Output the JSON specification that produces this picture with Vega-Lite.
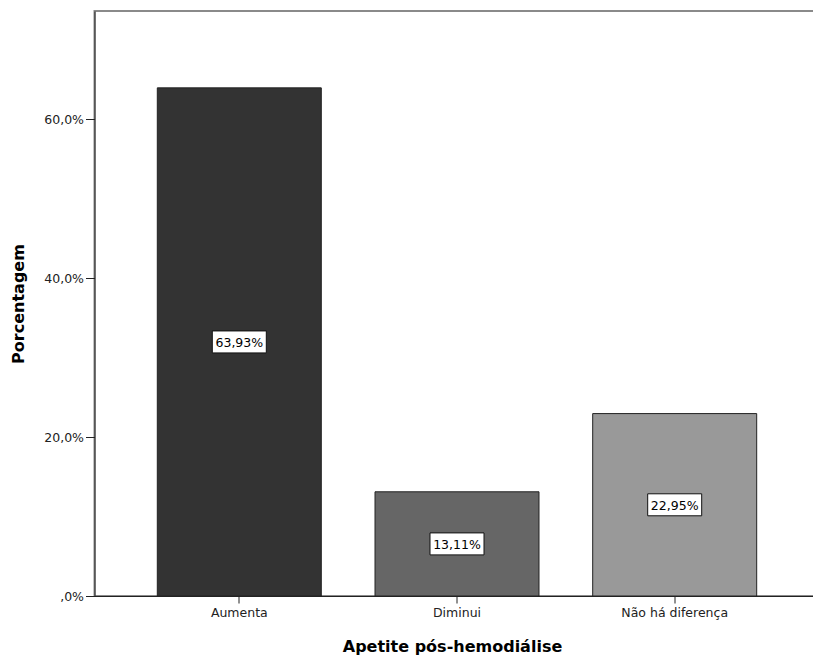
{
  "$schema": "https://vega.github.io/schema/vega-lite/v6.json",
  "width": 725,
  "height": 585,
  "autosize": {"type": "none"},
  "padding": {"left": 94.5, "top": 11, "right": 0, "bottom": 59},
  "background": "white",
  "config": {
    "font": "DejaVu Sans",
    "view": {"stroke": "#8a8a8a", "strokeWidth": 2}
  },
  "data": {
    "values": [
      {"apetite": "Aumenta", "pct": 63.93},
      {"apetite": "Diminui", "pct": 13.11},
      {"apetite": "Não há diferença", "pct": 22.95}
    ]
  },
  "transform": [
    {"calculate": "replace(format(datum.pct, '.2f'), '.', ',') + '%'", "as": "label"},
    {"calculate": "datum.pct / 2", "as": "mid"}
  ],
  "encoding": {
    "x": {
      "field": "apetite",
      "type": "nominal",
      "sort": null,
      "scale": {"paddingInner": 0.2467, "paddingOuter": 0.2885},
      "axis": {
        "labelAngle": 0,
        "labelFontSize": 12.5,
        "labelColor": "#222222",
        "labelPadding": 3,
        "tickSize": 7,
        "tickColor": "#222222",
        "domainColor": "#222222",
        "title": "Apetite pós-hemodiálise",
        "titleFontSize": 16,
        "titleFontWeight": "bold",
        "titleColor": "#000000",
        "titleX": 357.5,
        "titleY": 55,
        "titleBaseline": "alphabetic"
      }
    }
  },
  "layer": [
    {
      "mark": {"type": "bar", "stroke": "#222222", "strokeWidth": 1},
      "encoding": {
        "y": {
          "field": "pct",
          "type": "quantitative",
          "scale": {"domain": [0, 73.6], "nice": false},
          "axis": {
            "values": [0, 20, 40, 60],
            "grid": false,
            "labelExpr": "datum.value == 0 ? ',0%' : replace(format(datum.value, '.1f'), '.', ',') + '%'",
            "labelFontSize": 12.5,
            "labelColor": "#222222",
            "labelPadding": 2,
            "labelFlush": false,
            "tickSize": 9,
            "tickColor": "#222222",
            "domainColor": "#222222",
            "title": "Porcentagem",
            "titleFontSize": 16,
            "titleFontWeight": "bold",
            "titleColor": "#000000",
            "titleX": -76.5,
            "titleY": 292.5,
            "titleAngle": 270,
            "titleAlign": "center",
            "titleBaseline": "middle"
          }
        },
        "color": {
          "field": "apetite",
          "type": "nominal",
          "scale": {"range": ["#333333", "#666666", "#999999"]},
          "legend": null
        }
      }
    },
    {
      "mark": {
        "type": "point",
        "shape": "M-1,-0.407H1V0.407H-1Z",
        "size": 2916,
        "filled": true,
        "fill": "#ffffff",
        "stroke": "#111111",
        "strokeWidth": 1,
        "opacity": 1
      },
      "encoding": {
        "y": {"field": "mid", "type": "quantitative"}
      }
    },
    {
      "mark": {
        "type": "text",
        "fontSize": 12.5,
        "color": "#000000",
        "align": "center",
        "baseline": "middle",
        "dy": 1
      },
      "encoding": {
        "y": {"field": "mid", "type": "quantitative"},
        "text": {"field": "label"}
      }
    }
  ]
}
